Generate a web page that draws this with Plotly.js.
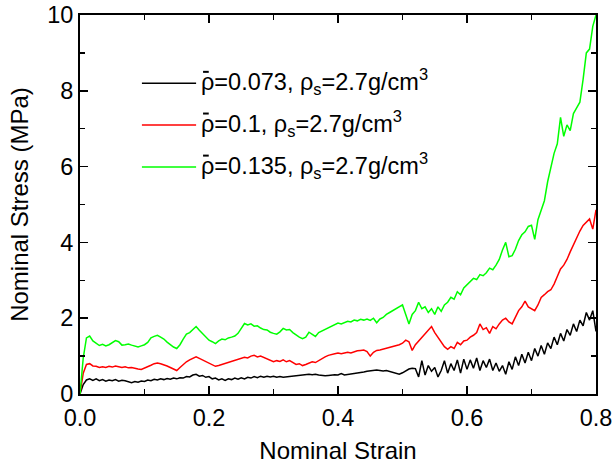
<!DOCTYPE html>
<html>
<head>
<meta charset="utf-8">
<script src="https://cdn.plot.ly/plotly-3.0.1.min.js"></script>
<style>html,body{margin:0;padding:0;background:#fff;}#chart{width:613px;height:464px;}</style>
</head>
<body>
<div id="chart"></div>
<script>
// Nominal strain (shared x grid for all curves)
var strain = [
0,0.005,0.01,0.015,0.02,0.025,0.03,0.035,0.04,0.045,
0.05,0.055,0.06,0.065,0.07,0.075,0.08,0.085,0.09,0.095,
0.1,0.105,0.11,0.115,0.12,0.125,0.13,0.135,0.14,0.145,
0.15,0.155,0.16,0.165,0.17,0.175,0.18,0.185,0.19,0.195,
0.2,0.205,0.21,0.215,0.22,0.225,0.23,0.235,0.24,0.245,
0.25,0.255,0.26,0.265,0.27,0.275,0.28,0.285,0.29,0.295,
0.3,0.305,0.31,0.315,0.32,0.325,0.33,0.335,0.34,0.345,
0.35,0.355,0.36,0.365,0.37,0.375,0.38,0.385,0.39,0.395,
0.4,0.405,0.41,0.415,0.42,0.425,0.43,0.435,0.44,0.445,
0.45,0.455,0.46,0.465,0.47,0.475,0.48,0.485,0.49,0.495,
0.5,0.505,0.51,0.515,0.52,0.525,0.53,0.535,0.54,0.545,
0.55,0.555,0.56,0.565,0.57,0.575,0.58,0.585,0.59,0.595,
0.6,0.605,0.61,0.615,0.62,0.625,0.63,0.635,0.64,0.645,
0.65,0.655,0.66,0.665,0.67,0.675,0.68,0.685,0.69,0.695,
0.7,0.705,0.71,0.715,0.72,0.725,0.73,0.735,0.74,0.745,
0.75,0.755,0.76,0.765,0.77,0.775,0.78,0.785,0.79,0.795,
0.8];

// Nominal stress (MPa), rho-bar = 0.073
var stress073 = [
0,0.25,0.37,0.4,0.36,0.4,0.35,0.38,0.34,0.37,
0.35,0.38,0.34,0.36,0.35,0.32,0.3,0.33,0.31,0.34,
0.33,0.37,0.35,0.39,0.37,0.4,0.38,0.41,0.39,0.42,
0.4,0.43,0.42,0.46,0.45,0.5,0.52,0.47,0.49,0.44,
0.46,0.4,0.42,0.37,0.4,0.36,0.4,0.38,0.42,0.39,
0.43,0.4,0.44,0.42,0.46,0.43,0.47,0.44,0.47,0.45,
0.47,0.44,0.46,0.44,0.45,0.46,0.47,0.49,0.5,0.5,
0.51,0.52,0.51,0.52,0.5,0.49,0.48,0.49,0.5,0.51,
0.5,0.54,0.5,0.51,0.52,0.53,0.55,0.57,0.58,0.6,
0.61,0.62,0.63,0.62,0.61,0.62,0.6,0.58,0.56,0.52,
0.56,0.62,0.66,0.68,0.67,0.45,0.88,0.5,0.75,0.6,
0.7,0.45,0.62,0.88,0.55,0.8,0.62,0.9,0.55,0.92,
0.65,0.9,0.68,0.95,0.62,0.88,0.7,0.92,0.62,0.82,
0.6,0.75,0.52,0.85,0.65,0.98,0.75,1.05,0.82,1.1,
0.88,1.2,1.0,1.28,1.05,1.35,1.2,1.5,1.3,1.6,
1.4,1.7,1.55,1.85,1.65,1.95,1.8,2.15,1.95,2.2,
1.65];

// Nominal stress (MPa), rho-bar = 0.1
var stress01 = [
0,0.55,0.78,0.8,0.74,0.73,0.7,0.72,0.7,0.73,
0.71,0.74,0.72,0.7,0.72,0.69,0.7,0.67,0.66,0.65,
0.68,0.71,0.76,0.8,0.82,0.8,0.78,0.74,0.7,0.65,
0.62,0.7,0.78,0.85,0.9,0.95,0.98,0.94,0.9,0.85,
0.8,0.76,0.73,0.75,0.78,0.8,0.83,0.85,0.88,0.92,
0.95,0.97,0.95,1.0,1.02,0.98,1.0,0.96,0.92,0.88,
0.85,0.88,0.86,0.9,0.85,0.88,0.82,0.78,0.8,0.75,
0.78,0.82,0.85,0.83,0.88,0.95,0.98,1.02,1.05,1.06,
1.08,1.06,1.08,1.1,1.08,1.12,1.14,1.15,1.16,1.12,
1.0,1.1,1.15,1.16,1.18,1.2,1.22,1.25,1.28,1.3,
1.34,1.42,1.38,1.15,1.3,1.4,1.5,1.58,1.68,1.78,
1.62,1.5,1.38,1.25,1.18,1.25,1.2,1.36,1.3,1.4,
1.42,1.5,1.55,1.62,1.85,1.7,1.75,1.6,1.78,1.72,
1.85,1.95,2.0,1.9,1.85,2.05,2.2,2.3,2.45,2.3,
2.25,2.2,2.35,2.55,2.62,2.7,2.75,2.9,3.1,3.3,
3.4,3.55,3.75,3.95,4.1,4.3,4.45,4.55,4.62,4.35,
4.86];

// Nominal stress (MPa), rho-bar = 0.135
var stress135 = [
0,0.95,1.48,1.53,1.4,1.33,1.28,1.31,1.27,1.3,
1.36,1.41,1.38,1.29,1.3,1.32,1.29,1.27,1.24,1.27,
1.3,1.36,1.48,1.52,1.55,1.5,1.45,1.37,1.3,1.24,
1.2,1.3,1.45,1.58,1.62,1.7,1.78,1.68,1.6,1.5,
1.42,1.38,1.33,1.4,1.45,1.43,1.48,1.5,1.53,1.6,
1.72,1.86,1.82,1.85,1.79,1.8,1.74,1.7,1.69,1.63,
1.6,1.58,1.64,1.73,1.69,1.7,1.62,1.55,1.5,1.46,
1.5,1.63,1.58,1.52,1.62,1.66,1.72,1.76,1.78,1.84,
1.87,1.85,1.88,1.92,1.9,1.95,1.93,1.97,1.95,1.98,
1.94,2.0,1.88,1.98,2.02,2.1,2.15,2.2,2.24,2.3,
2.35,2.1,1.85,2.1,2.2,2.42,2.25,2.3,2.15,2.25,
2.1,2.3,2.18,2.35,2.42,2.55,2.5,2.7,2.62,2.8,
2.88,2.95,3.05,3.02,3.15,3.12,3.2,3.32,3.28,3.4,
3.55,3.8,4.0,3.62,3.65,3.82,4.05,4.2,4.28,4.42,
4.45,4.08,4.6,4.85,5.1,5.6,5.95,6.35,6.6,7.3,
6.8,7.1,6.95,7.4,7.55,7.7,8.3,9.0,9.1,9.7,
10.0];

var seriesNames = [
  "\u03C1=0.073, \u03C1<sub>s</sub>=2.7g/cm<sup>3</sup>",
  "\u03C1=0.1, \u03C1<sub>s</sub>=2.7g/cm<sup>3</sup>",
  "\u03C1=0.135, \u03C1<sub>s</sub>=2.7g/cm<sup>3</sup>"
];
var seriesColors = ["#000000", "#ff0000", "#00ff00"];
var seriesValues = [stress073, stress01, stress135];

var xTickVals = [0, 0.2, 0.4, 0.6, 0.8];
var xTickText = ["0.0", "0.2", "0.4", "0.6", "0.8"];
var yTickVals = [0, 2, 4, 6, 8, 10];
var yTickText = ["0", "2", "4", "6", "8", "10"];

var FONT = "Arial, 'Liberation Sans', Helvetica, sans-serif";

var traces = seriesValues.map(function (vals, i) {
  return {
    x: strain, y: vals, type: "scatter", mode: "lines",
    name: seriesNames[i], showlegend: false,
    line: {color: seriesColors[i], width: 1.5}
  };
});

// legend drawn as key lines + text in paper coordinates (overbar on rho as a short stroke)
var legendRowsY = [0.820, 0.710, 0.599];
var shapes = [], annotations = [];
legendRowsY.forEach(function (yy, i) {
  shapes.push({type: "line", xref: "paper", yref: "paper",
    x0: 0.120, x1: 0.225, y0: yy, y1: yy,
    line: {color: seriesColors[i], width: 1.5}});
  shapes.push({type: "line", xref: "paper", yref: "paper",
    x0: 0.2385, x1: 0.2495, y0: yy + 0.030, y1: yy + 0.030,
    line: {color: "#000", width: 2}});
  annotations.push({xref: "paper", yref: "paper", x: 0.231, y: yy + 0.004,
    xanchor: "left", yanchor: "middle", showarrow: false,
    text: seriesNames[i], font: {family: FONT, size: 23.5, color: "#000"}});
});

var axisCommon = {
  showgrid: false, zeroline: false, showline: true, linecolor: "#000", linewidth: 2,
  mirror: "ticks", ticks: "inside", ticklen: 8, tickwidth: 1.5, tickcolor: "#000",
  tickfont: {family: FONT, size: 23.5, color: "#000"}
};

var layout = {
  width: 613, height: 464,
  margin: {l: 80, r: 17, t: 15, b: 70},
  paper_bgcolor: "#fff", plot_bgcolor: "#fff",
  font: {family: FONT, color: "#000"},
  xaxis: Object.assign({}, axisCommon, {
    range: [0, 0.8], tickmode: "array", tickvals: xTickVals, ticktext: xTickText,
    ticklabelstandoff: 2,
    minor: {dtick: 0.1, ticks: "inside", ticklen: 5, tickwidth: 1.5, tickcolor: "#000", showgrid: false},
    title: {text: "Nominal Strain", font: {family: FONT, size: 24, color: "#000"}, standoff: 12}
  }),
  yaxis: Object.assign({}, axisCommon, {
    range: [0, 10], tickmode: "array", tickvals: yTickVals, ticktext: yTickText,
    minor: {dtick: 1, ticks: "inside", ticklen: 5, tickwidth: 1.5, tickcolor: "#000", showgrid: false},
    title: {text: "Nominal Stress (MPa)", font: {family: FONT, size: 24, color: "#000"}, standoff: 12}
  }),
  shapes: shapes,
  annotations: annotations,
  showlegend: false
};

Plotly.newPlot("chart", traces, layout, {displayModeBar: false, staticPlot: true});
</script>
</body>
</html>
